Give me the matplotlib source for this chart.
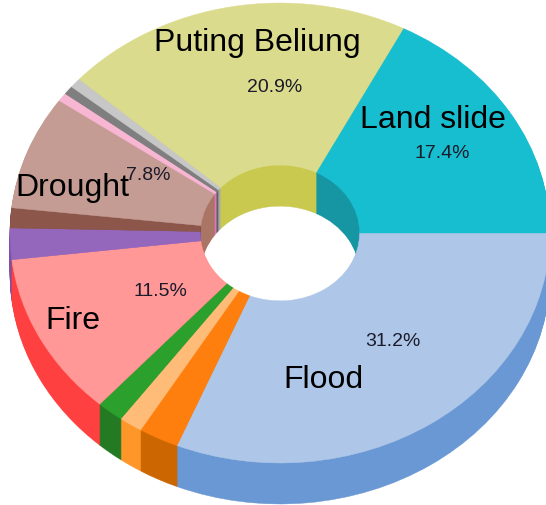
import matplotlib
matplotlib.use("Agg")
import matplotlib.pyplot as plt

# values in % of the ring, clockwise from 3 o'clock
values = [31.2, 2.4, 1.4, 1.6, 11.5, 2.2, 1.4, 8.0, 0.6, 0.6, 0.7, 20.9, 17.4]
top_colors = ['#aec7e8', '#ff7f0e', '#ffbb78', '#2ca02c', '#ff9896', '#9467bd', '#8c564b',
              '#c49c94', '#f7b6d2', '#7f7f7f', '#c7c7c7', '#dbdb8d', '#17becf']
side_colors = ['#6a98d4', '#cc6600', '#ff962a', '#237a23', '#ff4040', '#7a4fa8', '#6e4238',
               '#ab7565', '#e377c2', '#606060', '#a8a8a8', '#c9c94f', '#1696a3']

pct_labels = ['31.2%', '11.5%', '7.8%', '20.9%', '17.4%']
pct_x = [393, 160, 148, 275, 442]
pct_y = [342, 291, 175, 88, 154]
names = ['Flood', 'Fire', 'Drought', 'Puting Beliung', 'Land slide']
name_x = [323, 73, 72, 257, 433]
name_y = [380, 321, 188, 43, 120]

W, H = 546, 506
CX, CY = 280, 234     # ring centre, pixels
RX, RY = 270, 230     # outer radii, pixels
HOLE = 0.295
DEPTH = 41            # thickness of the ring, pixels


def draw_ring(ax, colors, offset):
    wedges, _ = ax.pie(values, colors=colors, startangle=0, counterclock=False,
                       center=(0, -offset / RY), radius=1,
                       wedgeprops={'width': 1 - HOLE})
    for w in wedges:
        w.set_edgecolor(w.get_facecolor())
        w.set_linewidth(0.3)


fig = plt.figure(figsize=(W / 100, H / 100), dpi=100)
ax = fig.add_axes([0, 0, 1, 1])

# thickness is just the ring stacked downwards in the darker colours
for k in range(DEPTH, 0, -1):
    draw_ring(ax, side_colors, k)
draw_ring(ax, top_colors, 0)

ax.set_aspect('auto')
ax.set_xlim(-CX / RX, (W - CX) / RX)
ax.set_ylim(-(H - CY) / RY, CY / RY)
ax.axis('off')

for label, x, y in zip(pct_labels, pct_x, pct_y):
    fig.text(x / W, 1 - y / H, label, ha='center', va='center', fontsize=14,
             family='Liberation Sans', color='#1a1a2a')
for label, x, y in zip(names, name_x, name_y):
    fig.text(x / W, 1 - y / H, label, ha='center', va='center', fontsize=23,
             family='Liberation Sans', color='black')

fig.savefig('out.png', dpi=100)
